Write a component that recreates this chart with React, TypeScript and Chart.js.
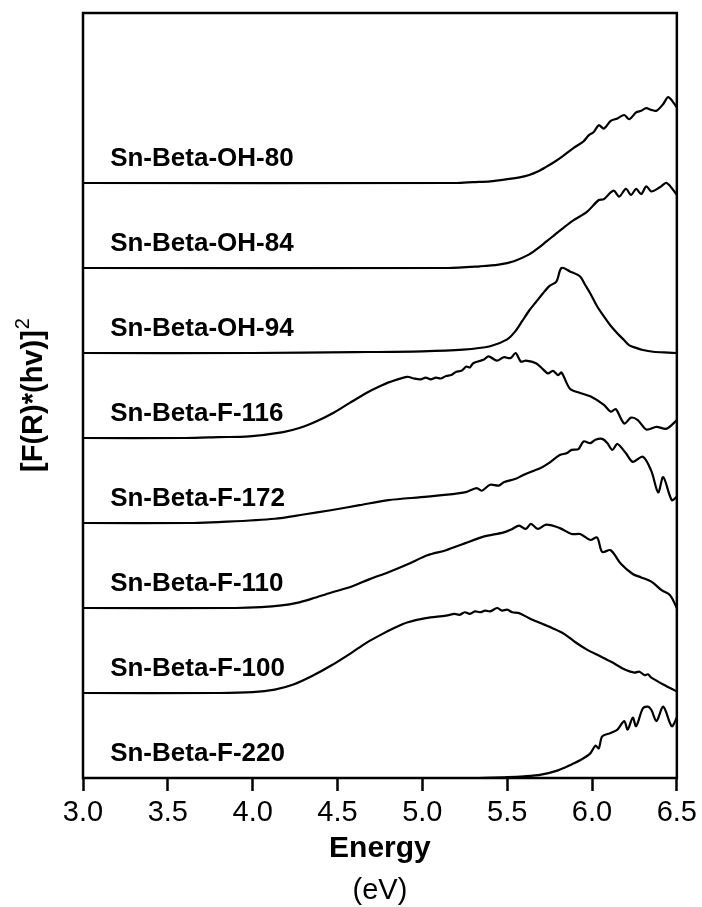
import React, { useEffect, useRef } from "react";
import { Chart, registerables } from "chart.js";

Chart.register(...registerables);

const FONT = "'Liberation Sans', Arial, Helvetica, sans-serif";

// Sample names, top to bottom
const seriesNames = [
  "Sn-Beta-OH-80",
  "Sn-Beta-OH-84",
  "Sn-Beta-OH-94",
  "Sn-Beta-F-116",
  "Sn-Beta-F-172",
  "Sn-Beta-F-110",
  "Sn-Beta-F-100",
  "Sn-Beta-F-220",
];
// vertical stacking offsets (a.u.)
const offsets = [7, 6, 5, 4, 3, 2, 1, 0];

const xTicks = [3.0, 3.5, 4.0, 4.5, 5.0, 5.5, 6.0, 6.5];

const yTitleMain = "[F(R)*(hv)]";
const yTitleSup = "2";
const xTitle = "Energy";
const xUnit = "(eV)";

// Energies (eV) and intensities (a.u.) per sample
const eOH80 = [3.0, 5.2, 5.3, 5.4, 5.5, 5.58, 5.63, 5.68, 5.73, 5.78, 5.83, 5.89, 5.95, 5.98, 6.01, 6.04, 6.07, 6.11, 6.15, 6.19, 6.22, 6.26, 6.29, 6.32, 6.35, 6.38, 6.42, 6.45, 6.5];
const vOH80 = [0, 0, 0.01, 0.02, 0.045, 0.07, 0.095, 0.135, 0.19, 0.25, 0.32, 0.41, 0.49, 0.56, 0.6, 0.68, 0.64, 0.73, 0.76, 0.8, 0.75, 0.83, 0.85, 0.88, 0.86, 0.85, 0.93, 1.01, 0.89];

const eOH84 = [3.0, 5.15, 5.34, 5.45, 5.54, 5.63, 5.68, 5.73, 5.78, 5.83, 5.89, 5.97, 6.04, 6.07, 6.11, 6.13, 6.16, 6.2, 6.23, 6.26, 6.29, 6.32, 6.35, 6.4, 6.44, 6.5];
const vOH84 = [0, 0, 0.02, 0.04, 0.08, 0.16, 0.23, 0.31, 0.39, 0.47, 0.56, 0.66, 0.8, 0.81, 0.89, 0.91, 0.84, 0.93, 0.86, 0.93, 0.87, 0.96, 0.9, 0.95, 1.0, 0.86];

const eOH94 = [3.0, 4.0, 4.6, 5.0, 5.24, 5.4, 5.5, 5.55, 5.59, 5.63, 5.67, 5.71, 5.75, 5.79, 5.82, 5.87, 5.93, 5.96, 5.99, 6.03, 6.07, 6.11, 6.15, 6.19, 6.22, 6.26, 6.3, 6.36, 6.45, 6.5];
const vOH94 = [0, 0, 0.01, 0.02, 0.04, 0.08, 0.16, 0.26, 0.38, 0.5, 0.6, 0.7, 0.79, 0.84, 1.0, 0.96, 0.9, 0.8, 0.7, 0.55, 0.43, 0.32, 0.23, 0.15, 0.09, 0.06, 0.035, 0.015, 0.005, 0];

const eF116 = [3.0, 3.6, 3.8, 3.98, 4.18, 4.28, 4.38, 4.48, 4.57, 4.67, 4.74, 4.81, 4.91, 4.95, 4.99, 5.02, 5.05, 5.08, 5.11, 5.14, 5.17, 5.2, 5.23, 5.26, 5.28, 5.3, 5.36, 5.39, 5.44, 5.48, 5.52, 5.55, 5.58, 5.61, 5.67, 5.71, 5.74, 5.77, 5.8, 5.82, 5.87, 5.93, 5.99, 6.07, 6.11, 6.14, 6.19, 6.23, 6.27, 6.32, 6.38, 6.44, 6.5];
const vF116 = [0, 0, 0.01, 0.02, 0.07, 0.12, 0.2, 0.3, 0.41, 0.53, 0.6, 0.66, 0.72, 0.7, 0.69, 0.71, 0.69, 0.71, 0.7, 0.73, 0.74, 0.78, 0.79, 0.84, 0.83, 0.88, 0.92, 0.96, 0.91, 0.95, 0.94, 1.0, 0.9, 0.91, 0.88, 0.81, 0.76, 0.79, 0.74, 0.77, 0.58, 0.53, 0.49, 0.39, 0.31, 0.34, 0.17, 0.24, 0.21, 0.1, 0.13, 0.11, 0.21];

const eF172 = [3.0, 3.65, 3.8, 4.13, 4.3, 4.46, 4.63, 4.8, 5.03, 5.25, 5.32, 5.35, 5.4, 5.45, 5.48, 5.55, 5.59, 5.65, 5.7, 5.75, 5.81, 5.85, 5.88, 5.92, 5.95, 5.99, 6.02, 6.06, 6.09, 6.12, 6.15, 6.2, 6.24, 6.3, 6.35, 6.39, 6.42, 6.47, 6.5];
const vF172 = [0, 0, 0.01, 0.05, 0.1, 0.15, 0.21, 0.27, 0.31, 0.36, 0.41, 0.38, 0.45, 0.44, 0.48, 0.52, 0.56, 0.61, 0.65, 0.71, 0.8, 0.82, 0.86, 0.87, 0.96, 0.94, 0.98, 0.99, 0.94, 0.86, 0.93, 0.82, 0.72, 0.78, 0.61, 0.36, 0.54, 0.27, 0.31];

const eF110 = [3.0, 3.9, 4.05, 4.17, 4.26, 4.35, 4.46, 4.58, 4.69, 4.8, 4.92, 5.03, 5.14, 5.25, 5.36, 5.48, 5.53, 5.57, 5.61, 5.64, 5.68, 5.73, 5.81, 5.88, 5.93, 5.99, 6.03, 6.06, 6.11, 6.17, 6.24, 6.29, 6.35, 6.41, 6.46, 6.5];
const vF110 = [0, 0, 0.01, 0.03, 0.06, 0.11, 0.18, 0.25, 0.34, 0.42, 0.52, 0.62, 0.68, 0.76, 0.84, 0.89, 0.93, 0.97, 0.93, 0.99, 0.93, 0.98, 0.94, 0.87, 0.87, 0.8, 0.83, 0.66, 0.68, 0.52, 0.4, 0.36, 0.31, 0.21, 0.15, 0];

const eF100 = [3.0, 3.8, 4.0, 4.13, 4.24, 4.35, 4.46, 4.58, 4.67, 4.76, 4.84, 4.91, 5.02, 5.14, 5.19, 5.22, 5.25, 5.28, 5.31, 5.34, 5.37, 5.4, 5.44, 5.47, 5.5, 5.53, 5.57, 5.63, 5.7, 5.77, 5.84, 5.9, 5.97, 6.04, 6.11, 6.2, 6.25, 6.28, 6.31, 6.33, 6.35, 6.42, 6.5];
const vF100 = [0, 0, 0.01, 0.04, 0.1, 0.2, 0.32, 0.47, 0.59, 0.69, 0.77, 0.83, 0.88, 0.91, 0.93, 0.92, 0.95, 0.93, 0.96, 0.95, 0.97, 0.96, 1.0, 0.97, 0.98, 0.95, 0.94, 0.88, 0.82, 0.76, 0.69, 0.6, 0.51, 0.44, 0.37, 0.27, 0.24, 0.25, 0.21, 0.22, 0.18, 0.1, 0.02];

const eF220 = [3.0, 5.3, 5.5, 5.6, 5.7, 5.8, 5.88, 5.94, 5.99, 6.02, 6.04, 6.06, 6.11, 6.15, 6.19, 6.21, 6.24, 6.26, 6.3, 6.33, 6.35, 6.38, 6.42, 6.47, 6.5];
const vF220 = [0, 0, 0.01, 0.02, 0.04, 0.09, 0.16, 0.22, 0.29, 0.38, 0.35, 0.49, 0.53, 0.57, 0.67, 0.57, 0.71, 0.61, 0.82, 0.84, 0.8, 0.67, 0.84, 0.61, 0.71];

const energies = [eOH80, eOH84, eOH94, eF116, eF172, eF110, eF100, eF220];
const values = [vOH80, vOH84, vOH94, vF116, vF172, vF110, vF100, vF220];

const LABEL_E = 3.16;
const LABEL_DY = 0.2;

const framePlugin = {
  id: "frame",
  afterDatasetsDraw(chart: any) {
    const { ctx, chartArea } = chart;
    const { left, top, right, bottom } = chartArea;
    ctx.save();
    ctx.strokeStyle = "#000";
    ctx.lineWidth = 2.5;
    ctx.strokeRect(left, top, right - left, bottom - top);
    ctx.restore();
  },
};

const labelPlugin = {
  id: "seriesLabels",
  afterDatasetsDraw(chart: any) {
    const { ctx, scales } = chart;
    ctx.save();
    ctx.fillStyle = "#000";
    ctx.font = `bold 26px ${FONT}`;
    ctx.textAlign = "left";
    ctx.textBaseline = "alphabetic";
    seriesNames.forEach((name, i) => {
      const x = scales.x.getPixelForValue(LABEL_E);
      const y = scales.y.getPixelForValue(offsets[i] + LABEL_DY);
      ctx.fillText(name, x, y);
    });
    ctx.restore();
  },
};

const textPlugin = {
  id: "extraText",
  afterDraw(chart: any) {
    const { ctx, chartArea, scales } = chart;
    ctx.save();
    ctx.fillStyle = "#000";
    ctx.font = `normal 29px ${FONT}`;
    ctx.textAlign = "center";
    ctx.textBaseline = "middle";
    ctx.fillText(xUnit, (chartArea.left + chartArea.right) / 2, scales.x.bottom + 24);
    const cy = (chartArea.top + chartArea.bottom) / 2;
    ctx.translate(32, cy);
    ctx.rotate(-Math.PI / 2);
    ctx.font = `bold 29px ${FONT}`;
    const wMain = ctx.measureText(yTitleMain).width;
    ctx.font = `normal 20px ${FONT}`;
    const wSup = ctx.measureText(yTitleSup).width;
    const start = -(wMain + wSup) / 2;
    ctx.textAlign = "left";
    ctx.textBaseline = "alphabetic";
    ctx.font = `bold 29px ${FONT}`;
    ctx.fillText(yTitleMain, start, 10);
    ctx.font = `normal 20px ${FONT}`;
    ctx.fillText(yTitleSup, start + wMain + 1, -3);
    ctx.restore();
  },
};

export default function App() {
  const canvasRef = useRef<HTMLCanvasElement | null>(null);

  useEffect(() => {
    const canvas = canvasRef.current;
    if (!canvas) return;
    const datasets = seriesNames.map((name, i) => ({
      label: name,
      data: energies[i].map((e, k) => ({ x: e, y: values[i][k] + offsets[i] })),
      borderColor: "#000",
      borderWidth: 2.2,
      pointRadius: 0,
      fill: false,
      tension: 0.3,
    }));

    const chart = new Chart(canvas, {
      type: "line",
      data: { datasets },
      options: {
        animation: false,
        responsive: false,
        devicePixelRatio: 1,
        layout: { padding: { left: 0, right: 25, top: 13, bottom: 40 } },
        plugins: {
          legend: { display: false },
          tooltip: { enabled: false },
        },
        scales: {
          x: {
            type: "linear",
            min: 3.0,
            max: 6.5,
            afterBuildTicks: (scale: any) => {
              scale.ticks = xTicks.map((v) => ({ value: v }));
            },
            afterFit: (scale: any) => {
              scale.height = 89;
            },
            ticks: {
              color: "#000",
              font: { size: 29, family: FONT },
              padding: 5,
              maxRotation: 0,
              callback: (v: any) => Number(v).toFixed(1),
            },
            grid: {
              display: true,
              drawOnChartArea: false,
              drawTicks: true,
              tickLength: 13,
              tickWidth: 2.5,
              tickColor: "#000",
            },
            border: { display: false },
            title: {
              display: true,
              text: xTitle,
              color: "#000",
              font: { size: 30, weight: "bold", family: FONT },
              padding: { top: 0, bottom: 0 },
            },
          },
          y: {
            type: "linear",
            min: 0,
            max: 9,
            afterFit: (scale: any) => {
              scale.width = 83;
            },
            ticks: { display: false },
            grid: { display: false },
            border: { display: false },
            title: { display: false },
          },
        },
      },
      plugins: [framePlugin, labelPlugin, textPlugin],
    });
    return () => chart.destroy();
  }, []);

  return (
    <div style={{ position: "fixed", left: 0, top: 0, width: 702, height: 907, background: "#fff" }}>
      <canvas ref={canvasRef} width={702} height={907} />
    </div>
  );
}
